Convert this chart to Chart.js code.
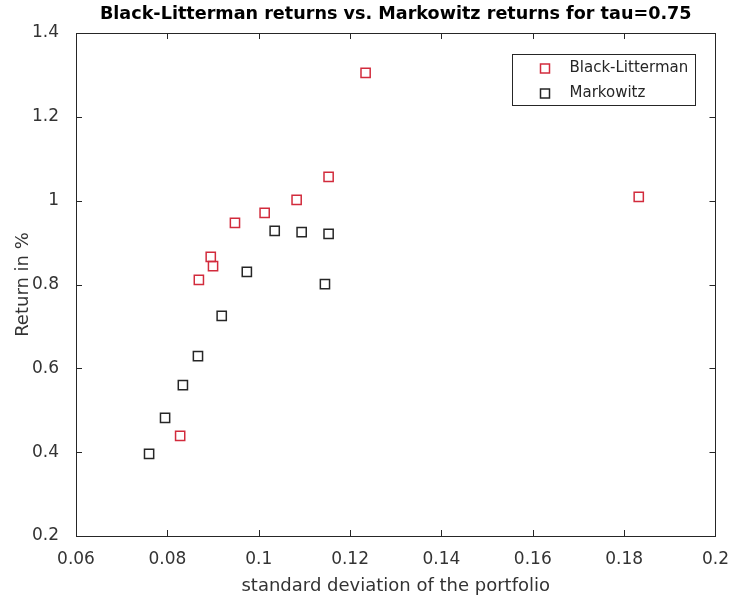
<!DOCTYPE html>
<html>
<head>
<meta charset="utf-8">
<script src="https://cdn.jsdelivr.net/npm/chart.js@4.4.1/dist/chart.umd.min.js"></script>
<style>
html, body { margin: 0; padding: 0; background: #fff; }
#wrap { width: 734px; height: 605px; }
</style>
</head>
<body>
<div id="wrap"><canvas id="chartTau"></canvas></div>
<script>
// ================================
// datos
// ================================
const blRisk   = [0.0828, 0.0869, 0.0895, 0.0900, 0.0948, 0.1013, 0.1083, 0.1153, 0.1234, 0.1832];
const blReturn = [0.439, 0.811, 0.866, 0.844, 0.947, 0.971, 1.002, 1.057, 1.305, 1.009];
const mkRisk   = [0.0760, 0.0795, 0.0834, 0.0867, 0.0919, 0.0974, 0.1035, 0.1094, 0.1145, 0.1153];
const mkReturn = [0.396, 0.482, 0.560, 0.629, 0.725, 0.830, 0.928, 0.925, 0.801, 0.921];
const xTicks = [0.06, 0.08, 0.1, 0.12, 0.14, 0.16, 0.18, 0.2];
const yTicks = [0.2, 0.4, 0.6, 0.8, 1, 1.2, 1.4];

const seriesNames = ["Black-Litterman", "Markowitz"];
const colores = ["#d22b3c", "#262626"];
const FONT = "'DejaVu Sans', sans-serif";

function toPoints(xs, ys) {
    return xs.map((x, i) => ({ x: x, y: ys[i] }));
}

// caja estilo matlab: borde, marcas hacia dentro y leyenda dentro del area
const matlabBox = {
    id: "matlabBox",
    afterDatasetsDraw(chart) {
        const ctx = chart.ctx;
        const a = chart.chartArea;
        const sx = chart.scales.x, sy = chart.scales.y;
        const tl = 6;
        ctx.save();
        ctx.strokeStyle = "#262626";
        ctx.lineWidth = 1;
        ctx.beginPath();
        xTicks.forEach(v => {
            const px = Math.round(sx.getPixelForValue(v)) + 0.5;
            ctx.moveTo(px, a.bottom); ctx.lineTo(px, a.bottom - tl);
            ctx.moveTo(px, a.top); ctx.lineTo(px, a.top + tl);
        });
        yTicks.forEach(v => {
            const py = Math.round(sy.getPixelForValue(v)) + 0.5;
            ctx.moveTo(a.left, py); ctx.lineTo(a.left + tl, py);
            ctx.moveTo(a.right, py); ctx.lineTo(a.right - tl, py);
        });
        ctx.stroke();
        ctx.strokeRect(Math.round(a.left) + 0.5, Math.round(a.top) + 0.5,
                       Math.round(a.right - a.left), Math.round(a.bottom - a.top));

        // leyenda
        const bw = 183, bh = 51;
        const bx = Math.round(a.right - 20 - bw) + 0.5;
        const by = Math.round(a.top + 21) + 0.5;
        ctx.fillStyle = "#fff";
        ctx.fillRect(bx, by, bw, bh);
        ctx.strokeStyle = "#262626";
        ctx.strokeRect(bx, by, bw, bh);
        ctx.font = "15px " + FONT;
        ctx.textBaseline = "middle";
        seriesNames.forEach((name, i) => {
            const cy = by + 14 + i * 25;
            ctx.strokeStyle = colores[i];
            ctx.lineWidth = 1.5;
            ctx.strokeRect(bx + 28, cy - 4.5, 9, 9);
            ctx.fillStyle = "#262626";
            ctx.fillText(name, bx + 57, cy);
        });
        ctx.restore();
    }
};

new Chart(document.getElementById("chartTau"), {
    type: "scatter",
    data: {
        datasets: [{
            label: seriesNames[0],
            data: toPoints(blRisk, blReturn),
            borderColor: colores[0],
            backgroundColor: "rgba(0,0,0,0)",
            borderWidth: 1.5,
            pointStyle: "rect",
            pointRadius: 6.5
        }, {
            label: seriesNames[1],
            data: toPoints(mkRisk, mkReturn),
            borderColor: colores[1],
            backgroundColor: "rgba(0,0,0,0)",
            borderWidth: 1.5,
            pointStyle: "rect",
            pointRadius: 6.5
        }]
    },
    options: {
        responsive: true,
        maintainAspectRatio: false,
        animation: false,
        events: [],
        layout: { padding: { left: 0, right: 18, top: 0, bottom: 0 } },
        scales: {
            x: {
                type: "linear",
                min: 0.06, max: 0.2,
                afterBuildTicks: s => { s.ticks = xTicks.map(v => ({ value: v })); },
                afterFit: s => { s.height = 69; },
                grid: { display: false },
                border: { display: false },
                ticks: {
                    padding: 5,
                    color: "#333",
                    font: { family: FONT, size: 17 },
                    callback: v => String(Number(v.toFixed(2)))
                },
                title: {
                    display: true,
                    text: "standard deviation of the portfolio",
                    color: "#333",
                    font: { family: FONT, size: 18 },
                    padding: { top: 0, bottom: 8 }
                }
            },
            y: {
                type: "linear",
                min: 0.2, max: 1.4,
                afterBuildTicks: s => { s.ticks = yTicks.map(v => ({ value: v })); },
                afterFit: s => { s.width = 76; },
                grid: { display: false },
                border: { display: false },
                ticks: {
                    padding: 9,
                    color: "#333",
                    font: { family: FONT, size: 17 },
                    callback: v => String(Number(v.toFixed(2)))
                },
                title: {
                    display: true,
                    text: "Return in %",
                    color: "#333",
                    font: { family: FONT, size: 18 },
                    padding: { top: 13, bottom: 0 }
                }
            }
        },
        plugins: {
            legend: { display: false },
            tooltip: { enabled: false },
            title: {
                display: true,
                fullSize: false,
                text: "Black-Litterman returns vs. Markowitz returns for tau=0.75",
                color: "#000",
                font: { family: FONT, size: 17.6, weight: "bold" },
                padding: { top: 4, bottom: 7.9 }
            }
        }
    },
    plugins: [matlabBox]
});
</script>
</body>
</html>
